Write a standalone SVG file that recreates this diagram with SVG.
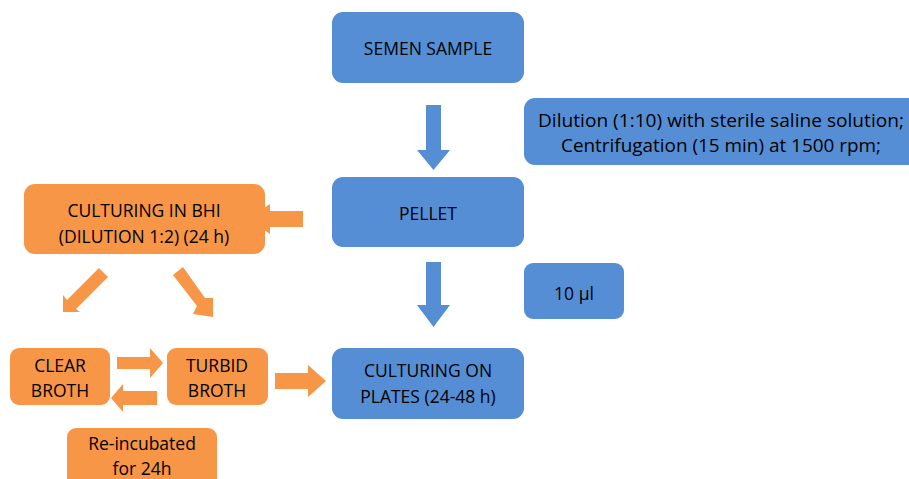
<svg xmlns="http://www.w3.org/2000/svg" width="909" height="479" viewBox="0 0 909 479">
<style>
.b{fill:#558ED5}
.o{fill:#F79646}
text{font-family:"Open Sans","Noto Sans",sans-serif;font-size:17.5px;fill:#000;text-anchor:middle;dominant-baseline:central}
</style>
<rect width="909" height="479" fill="#fff"/>
<g id="semen"><rect class="b" x="332" y="12" width="192" height="71" rx="11"/><text x="428" y="48">SEMEN SAMPLE</text></g>
<g id="dilution"><rect class="b" x="524" y="98" width="395" height="67" rx="11"/><text x="721" y="120" textLength="366" lengthAdjust="spacingAndGlyphs">Dilution (1:10) with sterile saline solution;</text><text x="721" y="145" textLength="320" lengthAdjust="spacingAndGlyphs">Centrifugation (15 min) at 1500 rpm;</text></g>
<g id="pellet"><rect class="b" x="332" y="177" width="192" height="70" rx="11"/><text x="428" y="213">PELLET</text></g>
<g id="ul"><rect class="b" x="524" y="263" width="100" height="56" rx="9"/><text x="574" y="293">10 µl</text></g>
<g id="plates"><rect class="b" x="332" y="348" width="192" height="71" rx="11"/><text x="428" y="370">CULTURING ON</text><text x="428" y="396">PLATES (24-48 h)</text></g>
<g id="bhi"><rect class="o" x="24" y="184" width="241" height="70" rx="11"/><text x="144" y="210">CULTURING IN BHI</text><text x="144" y="236">(DILUTION 1:2) (24 h)</text></g>
<g id="clear"><rect class="o" x="10" y="348" width="100" height="57" rx="9"/><text x="60" y="365">CLEAR</text><text x="60" y="390">BROTH</text></g>
<g id="turbid"><rect class="o" x="167" y="348" width="101" height="57" rx="9"/><text x="217" y="365">TURBID</text><text x="217" y="390">BROTH</text></g>
<g id="reinc"><rect class="o" x="67" y="428" width="150" height="60" rx="9"/><text x="142" y="443">Re-incubated</text><text x="142" y="468">for 24h</text></g>
<g id="connectors">
<polygon class="b" points="426,105 441,105 441,150 450,150 433.5,170 417,150 426,150"/>
<polygon class="b" points="426,262 441,262 441,305 450,305 433.5,327 417,305 426,305"/>
<polygon class="o" points="303,211 303,227 270,227 270,234 248,219 270,204 270,211"/>
<polygon class="o" points="99,268 108,277 76,309 80,312 63,312 63,295 67,300"/>
<polygon class="o" points="173,275 183,267 205,298 213,298 213,317 193,314 197,306"/>
<polygon class="o" points="117,357 150,357 150,348 163,363 150,378 150,369 117,369"/>
<polygon class="o" points="157,391 123,391 123,384 111,398 123,412 123,405 157,405"/>
<polygon class="o" points="275,373 308,373 308,365 326,381 308,397 308,389 275,389"/>
</g>
</svg>
